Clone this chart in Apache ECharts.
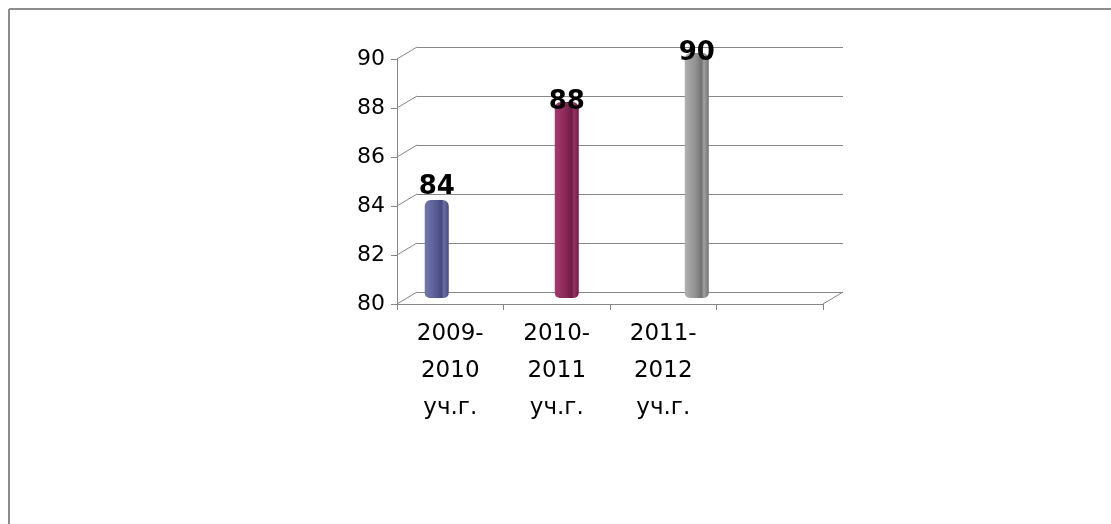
<!DOCTYPE html>
<html>
<head>
<meta charset="utf-8">
<script src="https://cdn.jsdelivr.net/npm/echarts@6/dist/echarts.min.js"></script>
<style>
html,body{margin:0;padding:0;background:#fff;}
#c{width:1111px;height:524px;}
</style>
</head>
<body>
<div id="c"></div>
<script>
// ---- data ----
var categories = ['2009-\n2010\nуч.г.', '2010-\n2011\nуч.г.', '2011-\n2012\nуч.г.', ''];
var seriesNames = ['2009-2010 уч.г.', '2010-2011 уч.г.', '2011-2012 уч.г.'];
var values = [84, 88, 90];
var yMin = 80, yMax = 90, yStep = 2;

var colors = [
  ['#7276AE', '#5A5E96', '#45497C', '#6A6EA4'],
  ['#A8376E', '#8A2958', '#6C1E45', '#983165'],
  ['#B0B0B0', '#919191', '#727272', '#A0A0A0']
];

// geometry (front plot)
var G = {left: 397, top: 59, width: 426, height: 245};
var depth = {dx: 20, dy: -12};

var chart = echarts.init(document.getElementById('c'), null, {renderer: 'canvas'});

function grad(c) {
  return new echarts.graphic.LinearGradient(0, 0, 1, 0, [
    {offset: 0, color: c[0]},
    {offset: 0.45, color: c[1]},
    {offset: 0.7, color: c[2]},
    {offset: 0.8, color: c[3]},
    {offset: 1, color: c[2]}
  ]);
}

var series = seriesNames.map(function (name, i) {
  var data = categories.map(function (_, j) { return j === i ? values[i] : null; });
  return {
    name: name,
    type: 'bar',
    xAxisIndex: 2,
    yAxisIndex: 2,
    data: data,
    barWidth: 24,
    barGap: '-2%',
    itemStyle: {color: grad(colors[i]), borderRadius: [6, 6, 5, 5]},
    label: {
      show: true,
      position: 'top',
      distance: 0,
      offset: i === 0 ? [0, 0] : [0, 13],
      fontFamily: 'DejaVu Sans',
      fontWeight: 'bold',
      fontSize: 26,
      color: '#000'
    }
  };
});

var option = {
  backgroundColor: '#fff',
  animation: false,
  grid: [
    {left: G.left, top: G.top, width: G.width, height: G.height},
    {left: G.left + depth.dx, top: G.top + depth.dy, width: G.width, height: G.height},
    {left: G.left + depth.dx / 2, top: G.top + depth.dy / 2, width: G.width, height: G.height}
  ],
  xAxis: [
    {
      gridIndex: 0, type: 'category', data: categories, boundaryGap: true,
      axisLine: {show: true, lineStyle: {color: '#868686', width: 1}},
      axisTick: {show: true, length: 6, lineStyle: {color: '#868686'}},
      axisLabel: {fontFamily: 'DejaVu Sans', fontSize: 23, color: '#000', lineHeight: 37, margin: 12, interval: 0}
    },
    {gridIndex: 1, type: 'category', data: categories, show: false},
    {gridIndex: 2, type: 'category', data: categories, show: false}
  ],
  yAxis: [
    {
      gridIndex: 0, type: 'value', min: yMin, max: yMax, interval: yStep,
      axisLine: {show: true, lineStyle: {color: '#868686', width: 1}},
      axisTick: {show: true, length: 6, lineStyle: {color: '#868686'}},
      axisLabel: {fontFamily: 'DejaVu Sans', fontSize: 22, color: '#000', margin: 12},
      splitLine: {show: false}
    },
    {
      gridIndex: 1, type: 'value', min: yMin, max: yMax, interval: yStep,
      axisLine: {show: false}, axisTick: {show: false}, axisLabel: {show: false},
      splitLine: {show: true, lineStyle: {color: '#868686', width: 1}}
    },
    {gridIndex: 2, type: 'value', min: yMin, max: yMax, interval: yStep, show: false, splitLine: {show: false}}
  ],
  series: series
};
chart.setOption(option);

// depth connectors and frame (decoration computed from the axes)
var els = [];
var lineStyle = {stroke: '#868686', lineWidth: 1};
var step = chart.convertToPixel({xAxisIndex: 0}, 1) - chart.convertToPixel({xAxisIndex: 0}, 0);
var x0 = chart.convertToPixel({xAxisIndex: 0}, 0) - step / 2;
for (var v = yMin; v <= yMax; v += yStep) {
  var py = chart.convertToPixel({yAxisIndex: 0}, v);
  els.push({type: 'line', shape: {x1: x0, y1: py, x2: x0 + depth.dx, y2: py + depth.dy}, style: lineStyle, z: 1});
}
var nCat = categories.length;
var xr = chart.convertToPixel({xAxisIndex: 0}, nCat - 1) + step / 2;
var yb = chart.convertToPixel({yAxisIndex: 0}, yMin);
els.push({type: 'line', shape: {x1: xr, y1: yb, x2: xr + depth.dx, y2: yb + depth.dy}, style: lineStyle, z: 1});
// outer frame (top and left edges visible)
var frame = {stroke: '#8c8c8c', lineWidth: 2};
els.push({type: 'line', shape: {x1: 9, y1: 9, x2: 1111, y2: 9}, style: frame, z: 0});
els.push({type: 'line', shape: {x1: 9, y1: 9, x2: 9, y2: 524}, style: frame, z: 0});
chart.setOption({graphic: els});
</script>
</body>
</html>
